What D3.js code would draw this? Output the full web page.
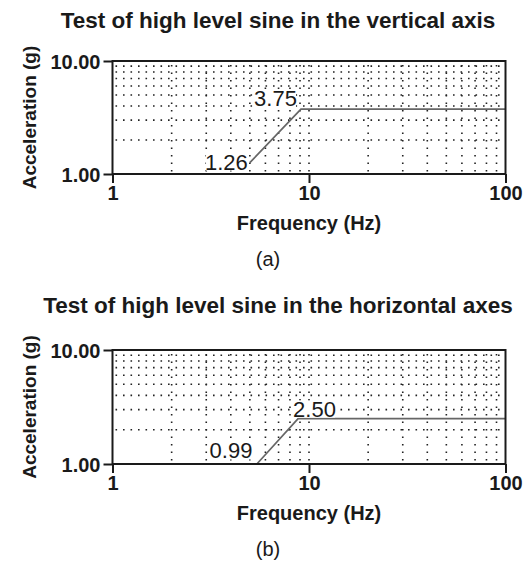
<!DOCTYPE html>
<html>
<head>
<meta charset="utf-8">
<script src="https://cdn.jsdelivr.net/npm/d3@7"></script>
<style>
  html, body { margin: 0; padding: 0; background: #fff; }
  svg { display: block; font-family: "Liberation Sans", Arial, sans-serif; }
</style>
</head>
<body>
<svg id="chart" width="524" height="563"></svg>
<script>
// Sine test profiles: acceleration vs frequency, log-log
const panelTitles = [
  "Test of high level sine in the vertical axis",
  "Test of high level sine in the horizontal axes"
];
const panelTags = ["(a)", "(b)"];
const freqTicks = [1, 10, 100];
const accelTicks = [1, 10];
const freqDomain = [1, 100];
const accelDomain = [1, 10];

// Vertical axis profile
const freqVertical = [5, 9.1, 100];
const accelVertical = [1.26, 3.75, 3.75];
// Horizontal axes profile
const freqHorizontal = [5.4, 8.8, 100];
const accelHorizontal = [0.99, 2.5, 2.5];

const series = [
  { f: freqVertical, a: accelVertical },
  { f: freqHorizontal, a: accelHorizontal }
];

// Panel geometry
const layout = [
  { top: 61, bottom: 174, titleY: 28, tagY: 266,
    labels: [ { i: 0, anchor: "end", dx: -2, dy: 7 }, { i: 1, anchor: "end", dx: -4, dy: -3 } ] },
  { top: 350, bottom: 464, titleY: 313, tagY: 556,
    labels: [ { i: 0, anchor: "end", dx: -4, dy: -6 }, { i: 1, anchor: "start", dx: -5, dy: -2 } ] }
];
const left = 112.5, right = 505.5;
const ink = "#1a1a1a";

const svg = d3.select("#chart");

layout.forEach((p, k) => {
  const x = d3.scaleLog().domain(freqDomain).range([left, right]);
  const y = d3.scaleLog().domain(accelDomain).range([p.bottom, p.top]);
  const g = svg.append("g");

  // Title
  g.append("text")
    .attr("x", 278).attr("y", p.titleY)
    .attr("text-anchor", "middle")
    .attr("font-size", 22.5).attr("font-weight", "bold").attr("fill", ink)
    .text(panelTitles[k]);

  // Dotted grid
  const grid = g.append("g")
    .attr("stroke", "#222").attr("stroke-width", 1.6)
    .attr("stroke-dasharray", "1.6 5.9");
  grid.selectAll("line.h")
    .data(y.ticks().filter(v => v > accelDomain[0] && v < accelDomain[1]))
    .join("line").attr("class", "h")
    .attr("x1", left + 3).attr("x2", right)
    .attr("y1", d => y(d)).attr("y2", d => y(d));
  grid.selectAll("line.v")
    .data(x.ticks().filter(v => v > freqDomain[0] && v < freqDomain[1]))
    .join("line").attr("class", "v")
    .attr("x1", d => x(d)).attr("x2", d => x(d))
    .attr("y1", p.top + 4).attr("y2", p.bottom);

  // Profile line
  const pts = series[k].f.map((f, i) => [f, series[k].a[i]]);
  g.append("path")
    .datum(pts)
    .attr("fill", "none").attr("stroke", "#666").attr("stroke-width", 1.7)
    .attr("d", d3.line().x(d => x(d[0])).y(d => y(d[1])));

  // Value labels on a white backing
  p.labels.forEach(l => {
    const px = x(pts[l.i][0]), py = y(pts[l.i][1]);
    const lg = g.append("g");
    const t = lg.append("text")
      .attr("x", px + l.dx).attr("y", py + l.dy)
      .attr("text-anchor", l.anchor)
      .attr("font-size", 22).attr("fill", ink)
      .text(d3.format(".2f")(pts[l.i][1]));
    const b = t.node().getBBox();
    lg.insert("rect", "text")
      .attr("x", b.x + 1).attr("y", b.y + 4)
      .attr("width", b.width - 2).attr("height", b.height - 8)
      .attr("fill", "#fff");
  });

  // Frame
  g.append("rect")
    .attr("x", left).attr("y", p.top)
    .attr("width", right - left).attr("height", p.bottom - p.top)
    .attr("fill", "none").attr("stroke", ink).attr("stroke-width", 2);

  // Axes
  const yAxis = g.append("g")
    .attr("transform", `translate(${left},0)`)
    .call(d3.axisLeft(y).tickValues(accelTicks).tickFormat(d3.format(".2f")).tickSize(9).tickPadding(3));
  const xAxis = g.append("g")
    .attr("transform", `translate(0,${p.bottom})`)
    .call(d3.axisBottom(x).tickValues(freqTicks).tickFormat(d3.format("d")).tickSize(9).tickPadding(3));
  [yAxis, xAxis].forEach(a => {
    a.select(".domain").remove();
    a.selectAll("line").attr("stroke", ink).attr("stroke-width", 2);
    a.selectAll("text")
      .attr("font-family", "Liberation Sans, Arial, sans-serif")
      .attr("font-size", 20).attr("font-weight", "bold").attr("fill", ink);
  });
  yAxis.selectAll("text").attr("dy", "0.36em");

  // Axis titles
  g.append("text")
    .attr("x", (left + right) / 2).attr("y", p.bottom + 56)
    .attr("text-anchor", "middle")
    .attr("font-size", 20).attr("font-weight", "bold").attr("fill", ink)
    .text("Frequency (Hz)");
  g.append("text")
    .attr("transform", `translate(36,${(p.top + p.bottom) / 2}) rotate(-90)`)
    .attr("text-anchor", "middle")
    .attr("font-size", 19).attr("font-weight", "bold").attr("fill", ink)
    .text("Acceleration (g)");

  // Panel tag
  g.append("text")
    .attr("x", 268).attr("y", p.tagY)
    .attr("text-anchor", "middle")
    .attr("font-size", 20).attr("fill", ink)
    .text(panelTags[k]);
});
</script>
</body>
</html>
